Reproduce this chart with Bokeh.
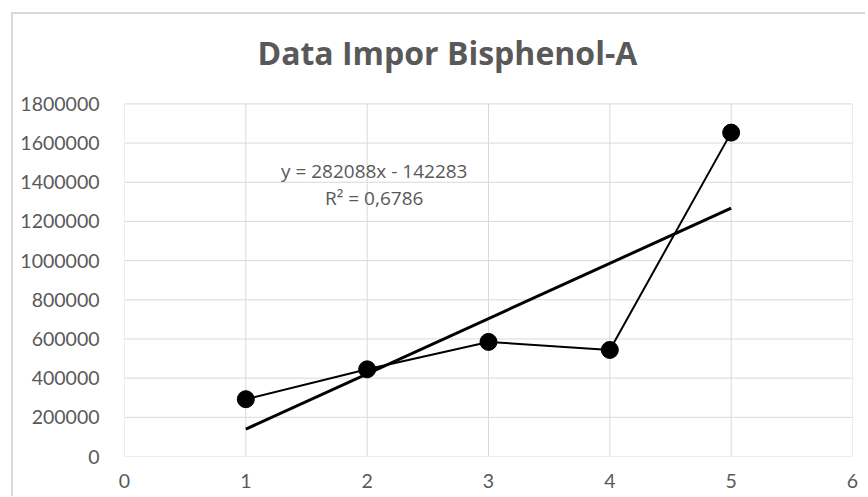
from bokeh.plotting import figure
from bokeh.models import Label, Range1d, FixedTicker, NumeralTickFormatter
from bokeh.embed import file_html
from bokeh.resources import INLINE

# Data
x_vals = [1, 2, 3, 4, 5]
y_vals = [292500, 445000, 585000, 544000, 1653400]
slope = 282088
intercept = -142283
r_squared = "0,6786"
x_ticks = [0, 1, 2, 3, 4, 5, 6]
y_ticks = [0, 200000, 400000, 600000, 800000, 1000000, 1200000, 1400000, 1600000, 1800000]
title_text = "Data Impor Bisphenol-A"

FONT = "Lato"
TFONT = "Open Sans"
GRAY = "#595959"
GRID = "#d9d9d9"

x_min, x_max = x_ticks[0], x_ticks[-1]
y_min, y_max = y_ticks[0], y_ticks[-1]
# extra room above the plot area (inside the frame) holds the title
y_top = y_max * 440 / 351.0

p = figure(width=852, height=482, output_backend="svg", toolbar_location=None, title=None,
           x_range=Range1d(x_min, x_max), y_range=Range1d(y_min, y_top),
           min_border_left=111, min_border_right=15, min_border_top=0, min_border_bottom=42)
p.margin = (12, 0, 0, 11)
p.styles = {"border-left": "2px solid #d9d9d9", "border-top": "2px solid #d9d9d9",
            "box-sizing": "content-box"}

p.outline_line_color = None
p.background_fill_color = "white"
p.border_fill_color = "white"
p.xgrid.visible = False
p.ygrid.visible = False

for ax in (p.xaxis[0], p.yaxis[0]):
    ax.axis_line_color = None
    ax.major_tick_line_color = None
    ax.minor_tick_line_color = None
    ax.major_label_text_font = FONT
    ax.major_label_text_font_size = "19.5px"
    ax.major_label_text_color = GRAY

p.xaxis.ticker = FixedTicker(ticks=x_ticks)
p.yaxis.ticker = FixedTicker(ticks=y_ticks)
p.yaxis.formatter = NumeralTickFormatter(format="0")
p.yaxis.major_label_standoff = 19
p.xaxis.major_label_standoff = 11

# gridlines (bounded to the plot area)
p.segment(x0=x_ticks, y0=[y_min] * len(x_ticks), x1=x_ticks, y1=[y_max] * len(x_ticks),
          line_color=GRID, line_width=1)
p.segment(x0=[x_min] * len(y_ticks), y0=y_ticks, x1=[x_max] * len(y_ticks), y1=y_ticks,
          line_color=GRID, line_width=1)

# title
p.add_layout(Label(x=2.661, y=2061500, text=title_text, text_align="center", text_baseline="middle",
                   text_font=TFONT, text_font_size="32px", text_font_style="bold", text_color=GRAY))

# trendline
tx = [min(x_vals), max(x_vals)]
ty = [slope * t + intercept for t in tx]
p.line(tx, ty, line_color="black", line_width=3)

# data
p.line(x_vals, y_vals, line_color="black", line_width=2)
p.scatter(x_vals, y_vals, size=17, marker="circle", fill_color="black", line_color="black")

eq = "y = %dx - %d" % (slope, -intercept)
p.add_layout(Label(x=2.058, y=1458000, text=eq, text_align="center", text_baseline="middle",
                   text_font=TFONT, text_font_size="19px", text_color=GRAY))
p.add_layout(Label(x=2.058, y=1322000, text="R² = " + r_squared, text_align="center", text_baseline="middle",
                   text_font=TFONT, text_font_size="19px", text_color=GRAY))

open("out.html", "w").write(file_html(p, INLINE))
